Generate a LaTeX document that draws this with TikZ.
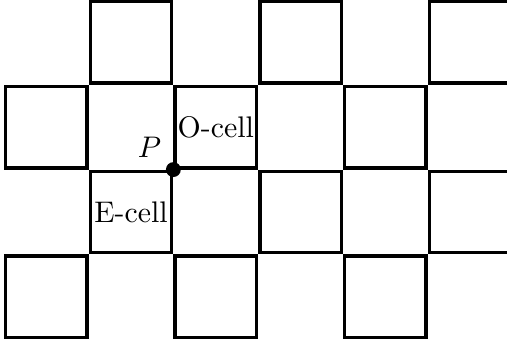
\documentclass[tikz,border=0pt]{standalone}
\usepackage{amsmath}
\usetikzlibrary{calc}
\tikzstyle{cell} = [rectangle, draw, line width=1.1pt, minimum size=0.96cm, inner sep=0pt]
\tikzstyle{dot} = [circle, fill=black, minimum size=5pt, inner sep=0pt]

\begin{document}
\begin{tikzpicture}
 \useasboundingbox (0,0) rectangle (5.98,4.06);
 % checkerboard of cells
 \foreach \c in {0,...,5}
  \foreach \r in {0,...,3} {
   \pgfmathtruncatemacro{\parity}{mod(\c+\r,2)}
   \ifnum\parity=0
    \node[cell] (c\c\r) at (\c+0.545,\r+0.56) {};
   \fi
  }
 \node (ecell) at (c11) {E-cell};
 \node (ocell) at (c22) {O-cell};
 \node[dot, label={[inner sep=2pt]above left:$P$}] (P) at ($(c11.north east)!0.5!(c22.south west)$) {};
\end{tikzpicture}
\end{document}
